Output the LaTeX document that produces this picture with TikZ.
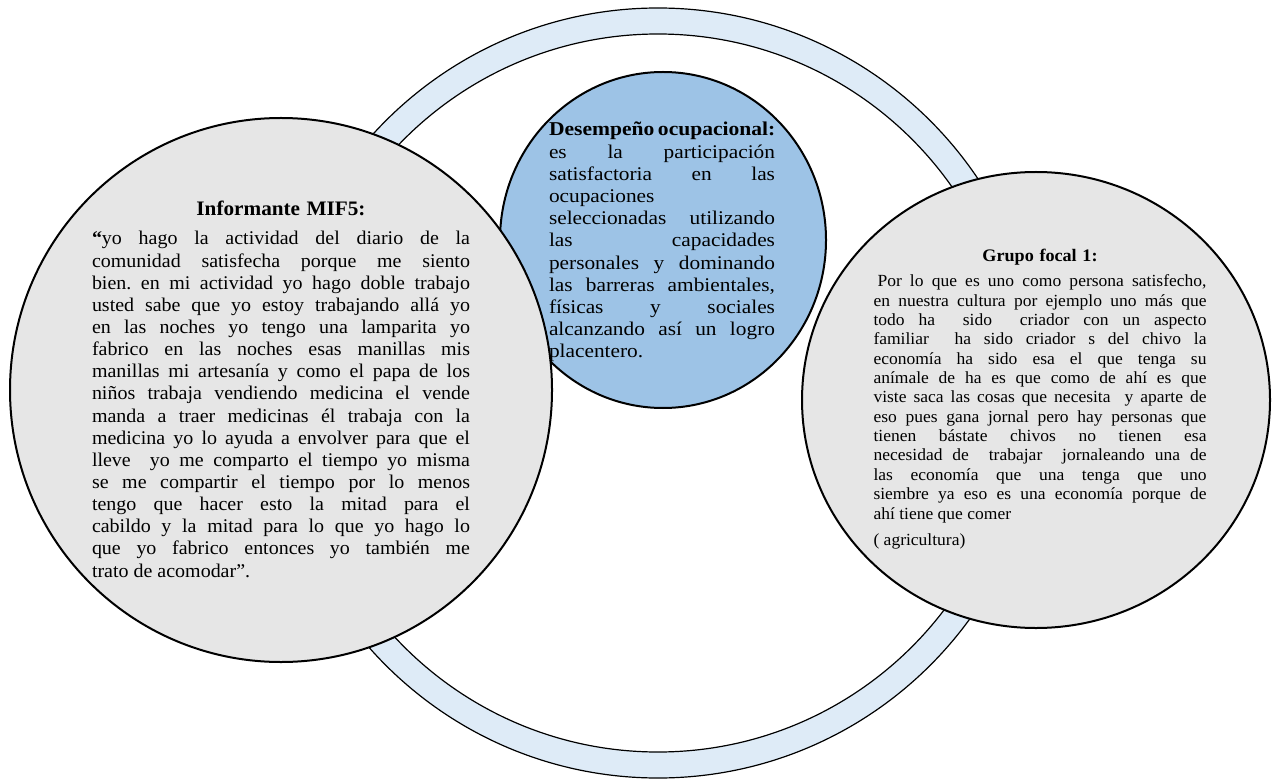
\documentclass[tikz,border=0pt]{standalone}
\usepackage{fontspec}
\setmainfont{Liberation Serif}[FakeStretch=1.03]
\newfontfamily\widefont{Liberation Serif}[FakeStretch=1.1]
\usetikzlibrary{shapes.geometric}
\definecolor{ringblue}{HTML}{DEEBF7}
\definecolor{coreblue}{HTML}{9DC3E6}
\definecolor{quotegray}{HTML}{E6E6E6}
% justified, ragged and centred lines
\newcommand{\wordgaps}{\spaceskip=0pt\xspaceskip=0pt\frenchspacing}
\newcommand{\jline}[1]{\hbox to\hsize{\wordgaps#1}}
\newcommand{\rline}[1]{\hbox to\hsize{\wordgaps#1\hfil}}
\newcommand{\tline}[1]{\hbox to\hsize{\hfil#1\hfil}}
\begin{document}
\begin{tikzpicture}[x=0.5pt,y=-0.5pt]
      \tikzset{bubble/.style={draw, line width=1pt, ellipse, inner sep=0pt, fill=quotegray},
               quote/.style={anchor=base, inner sep=0pt, font=\fontsize{9.7pt}{11.07pt}\selectfont}}
      \useasboundingbox (0,0) rectangle (1277,780);
%% Ring
      \fill[ringblue, even odd rule] (658,393) circle[radius=385] (658,393) circle[radius=359];
      \draw[line width=0.6pt] (658,393) circle[radius=385] (658,393) circle[radius=359];
%% Circles
      \node[bubble, minimum width=234pt, minimum height=228pt] (focal) at (1036,400) {};
      \node[bubble, fill=coreblue, minimum width=163pt, minimum height=168pt] (core) at (663,240) {};
      \node[bubble, minimum width=271pt, minimum height=272pt] (mif) at (281,390) {};
%% Texts
      \node[quote, text width=189pt] (miftext) at (281,216) {%
        \tline{\fontsize{10.3pt}{11.07pt}\selectfont\textbf{Informante MIF5:}}\vskip3.4pt
        \jline{\textbf{“}yo hago la actividad del diario de la}
        \jline{comunidad satisfecha porque me siento}
        \jline{bien. en mi actividad yo hago doble trabajo}
        \jline{usted sabe que yo estoy trabajando allá yo}
        \jline{en las noches yo tengo una lamparita yo}
        \jline{fabrico en las noches esas manillas mis}
        \jline{manillas mi artesanía y como el papa de los}
        \jline{niños trabaja vendiendo medicina el vende}
        \jline{manda a traer medicinas él trabaja con la}
        \jline{medicina yo lo ayuda a envolver para que el}
        \jline{lleve \ yo me comparto el tiempo yo misma}
        \jline{se me compartir el tiempo por lo menos}
        \jline{tengo que hacer esto la mitad para el}
        \jline{cabildo y la mitad para lo que yo hago lo}
        \jline{que yo fabrico entonces yo también me}
        \rline{trato de acomodar”.}};
      \node[quote, text width=113pt, font=\widefont\fontsize{9.7pt}{11.1pt}\selectfont] (coretext) at (662,136) {%
        \jline{\fontsize{9.8pt}{11.1pt}\selectfont\textbf{Desempeño ocupacional:}}
        \jline{es la participación}
        \jline{satisfactoria en las}
        \rline{ocupaciones}
        \jline{seleccionadas utilizando}
        \jline{las capacidades}
        \jline{personales y dominando}
        \jline{las barreras ambientales,}
        \jline{físicas y sociales}
        \jline{alcanzando así un logro}
        \rline{placentero.}};
      \node[quote, text width=166.5pt, font=\fontsize{8.5pt}{9.67pt}\selectfont] (focaltext) at (1040,262) {%
        \tline{\fontsize{8.8pt}{9.67pt}\selectfont\textbf{Grupo focal 1:}}\vskip2.8pt
        \jline{\kern2pt Por lo que es uno como persona satisfecho,}
        \jline{en nuestra cultura por ejemplo uno más que}
        \jline{todo ha \ sido \ criador con un aspecto}
        \jline{familiar \ ha sido criador s del chivo la}
        \jline{economía ha sido esa el que tenga su}
        \jline{anímale de ha es que como de ahí es que}
        \jline{viste saca las cosas que necesita \ y aparte de}
        \jline{eso pues gana jornal pero hay personas que}
        \jline{tienen bástate chivos no tienen esa}
        \jline{necesidad de \ trabajar \ jornaleando una de}
        \jline{las economía que una tenga que uno}
        \jline{siembre ya eso es una economía porque de}
        \rline{ahí tiene que comer}\vskip3.8pt
        \rline{( agricultura)}};
\end{tikzpicture}
\end{document}
